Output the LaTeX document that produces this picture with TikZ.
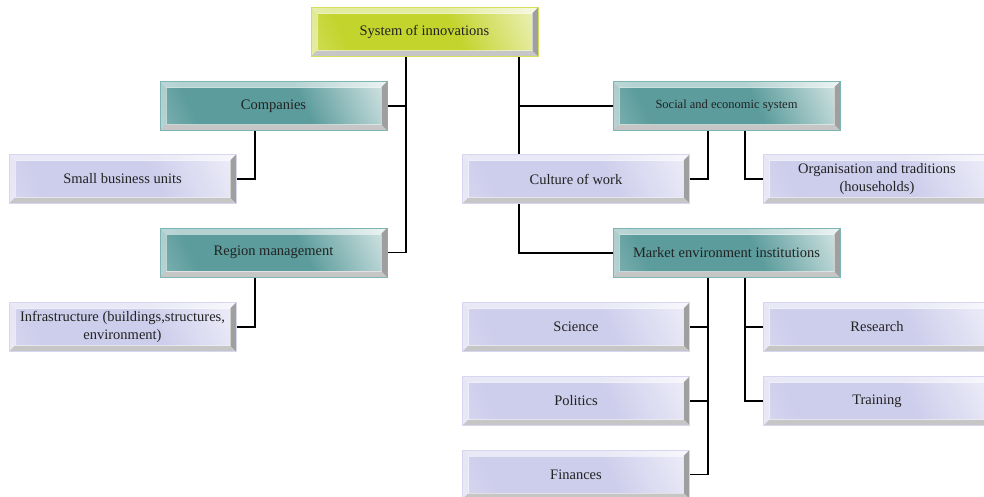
\documentclass[tikz,border=0pt]{standalone}
\usepackage{fontspec}
\setmainfont{Liberation Serif}
\usetikzlibrary{calc}
\pgfdeclarelayer{bg}
\pgfsetlayers{bg,main}
\definecolor{lavFace}{HTML}{CDCDEC}
\definecolor{lavHigh}{HTML}{F4F4FB}
\definecolor{lavLine}{HTML}{D6D6F0}
\definecolor{tealFace}{HTML}{5C9C9C}
\definecolor{tealHigh}{HTML}{EEF4F4}
\definecolor{tealLine}{HTML}{7DB4B4}
\definecolor{limeFace}{HTML}{C3D42C}
\definecolor{limeHigh}{HTML}{F6F8DC}
\definecolor{limeLine}{HTML}{D2DE5A}
\definecolor{txt}{HTML}{222222}
\pgfdeclarehorizontalshading{lavshade}{100bp}{color(0bp)=(lavFace!50!white); color(28bp)=(lavFace); color(58bp)=(lavFace); color(88bp)=(lavHigh); color(100bp)=(white)}
\pgfdeclarehorizontalshading{tealshade}{100bp}{color(0bp)=(tealFace!45!white); color(28bp)=(tealFace); color(58bp)=(tealFace); color(88bp)=(tealHigh); color(100bp)=(white)}
\pgfdeclarehorizontalshading{limeshade}{100bp}{color(0bp)=(limeFace!45!white); color(28bp)=(limeFace); color(58bp)=(limeFace); color(88bp)=(limeHigh); color(100bp)=(white)}
\tikzset{
    bevel/.style={path picture={
        \path (path picture bounding box.north west) coordinate (p1)
              (path picture bounding box.north east) coordinate (p2)
              (path picture bounding box.south east) coordinate (p3)
              (path picture bounding box.south west) coordinate (p4);
        \fill[white,opacity=.55] (p1) -- (p2) -- ([shift={(-6pt,-6pt)}]p2) -- ([shift={(6pt,-6pt)}]p1) -- cycle;
        \fill[white,opacity=.45] (p1) -- ([shift={(6pt,-6pt)}]p1) -- ([shift={(6pt,6pt)}]p4) -- (p4) -- cycle;
        \fill[gray!75] (p2) -- (p3) -- ([shift={(-6pt,6pt)}]p3) -- ([shift={(-6pt,-6pt)}]p2) -- cycle;
        \fill[gray!45] (p4) -- (p3) -- ([shift={(-6pt,6pt)}]p3) -- ([shift={(6pt,6pt)}]p4) -- cycle;
        \draw[white,opacity=.5,line width=.6pt] ([shift={(6pt,-6pt)}]p1) rectangle ([shift={(-6pt,6pt)}]p3);
    }},
    box/.style={rectangle, minimum width=227pt, minimum height=49pt, inner sep=0pt,
        align=center, text=txt, line width=1pt, shade, shading angle=25,
        font=\fontsize{14.5}{17.5}\selectfont, bevel},
    lavbox/.style={box, draw=lavLine, shading=lavshade},
    tealbox/.style={box, draw=tealLine, shading=tealshade},
    limebox/.style={box, draw=limeLine, shading=limeshade},
    link/.style={line width=1.2pt, black}
}

\begin{document}
\begin{tikzpicture}[x=1pt,y=-1pt]
\useasboundingbox (0,0) rectangle (984,496);
% Boxes
\node[limebox] (sys) at (424.5,32) {System of innovations};
\node[tealbox] (comp) at (273.5,106) {Companies};
\node[lavbox] (small) at (122.5,179) {Small business units};
\node[tealbox] (region) at (273.5,252.5) {Region management};
\node[lavbox] (infra) at (122.5,327) {Infrastructure (buildings,structures,\\environment)};
\node[tealbox, font=\fontsize{12.5}{15}\selectfont] (social) at (726.5,106) {Social and economic system};
\node[lavbox] (culture) at (576,179) {Culture of work};
\node[lavbox] (org) at (877,179) {Organisation and traditions\\(households)};
\node[tealbox] (market) at (726.5,253) {Market environment institutions};
\node[lavbox] (science) at (576,327) {Science};
\node[lavbox] (politics) at (576,401) {Politics};
\node[lavbox] (finances) at (576,474.5) {Finances};
\node[lavbox] (research) at (877,327) {Research};
\node[lavbox] (training) at (877,401) {Training};
% Junction points
\coordinate (sysL) at (406,57);
\coordinate (sysR) at (519,57);
\coordinate (compB) at (255,131);
\coordinate (regionB) at (255,277);
\coordinate (socialL) at (708,131);
\coordinate (socialR) at (745,131);
\coordinate (marketL) at (708,277);
\coordinate (marketR) at (745,277);
% Connections
\begin{pgfonlayer}{bg}
\draw[link] (sysL) |- (comp.east);
\draw[link] (sysL) |- (region.east);
\draw[link] (sysR) |- (social.west);
\draw[link] (sysR) |- (market.west);
\draw[link] (compB) |- (small.east);
\draw[link] (regionB) |- (infra.east);
\draw[link] (socialL) |- (culture.east);
\draw[link] (socialR) |- (org.west);
\draw[link] (marketL) |- (science.east);
\draw[link] (marketL) |- (politics.east);
\draw[link] (marketL) |- (finances.east);
\draw[link] (marketR) |- (research.west);
\draw[link] (marketR) |- (training.west);
\end{pgfonlayer}
\end{tikzpicture}
\end{document}
